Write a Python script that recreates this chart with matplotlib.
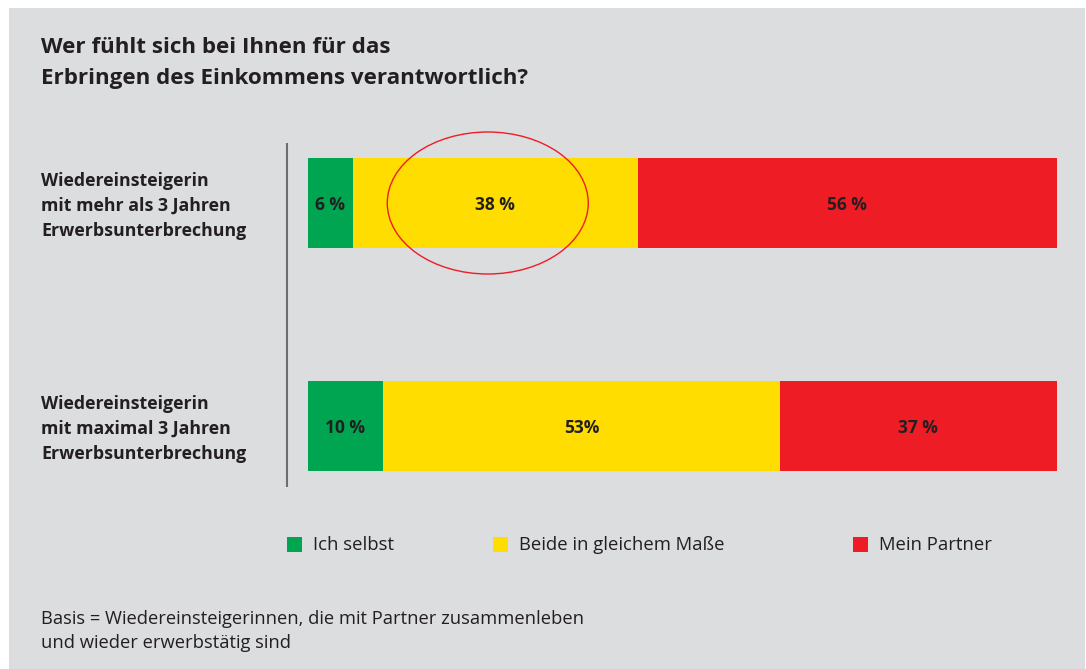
import matplotlib
matplotlib.use("Agg")
import matplotlib.pyplot as plt
from matplotlib.patches import Rectangle, Ellipse

# ---- data ----
categories = [
    "Wiedereinsteigerin\nmit mehr als 3 Jahren\nErwerbsunterbrechung",
    "Wiedereinsteigerin\nmit maximal 3 Jahren\nErwerbsunterbrechung",
]
series_names = ["Ich selbst", "Beide in gleichem Maße", "Mein Partner"]
ich_selbst = [6, 10]
beide = [38, 53]
partner = [56, 37]
value_labels = [["6 %", "38 %", "56 %"], ["10 %", "53%", "37 %"]]

colors = ["#00a551", "#ffdd00", "#ee1c25"]
bg = "#dcdddf"
txt = "#231f20"
FONT = "Open Sans"

W, H = 1086, 669
fig = plt.figure(figsize=(W / 100, H / 100), dpi=100)
fig.patch.set_facecolor("white")

def fx(px):
    return px / W

def fy(py):
    return 1 - py / H

# gray panel
fig.patches.append(Rectangle((fx(9), 0), fx(1085) - fx(9), fy(8), transform=fig.transFigure,
                             facecolor=bg, edgecolor="none", zorder=-5))

# title
fig.text(fx(41), fy(63), "Wer fühlt sich bei Ihnen für das\nErbringen des Einkommens verantwortlich?",
         family=FONT, fontweight="bold", fontsize=16.1, color=txt, va="center", ha="left",
         linespacing=1.64)

# bars axes
ax = fig.add_axes([fx(308), fy(487), fx(1057) - fx(308), fy(143) - fy(487)])
ax.set_facecolor("none")
ax.set_zorder(2)
px_per_unit = 426 - 203
ax.set_ylim(1 + (487 - 426) / px_per_unit, -(203 - 143) / px_per_unit)
ax.set_xlim(0, 100)
ax.axis("off")

ypos = [0, 1]
bh = 90 / px_per_unit
series = [ich_selbst, beide, partner]
lefts = [0, 0]
for si, vals in enumerate(series):
    ax.barh(ypos, vals, left=lefts, height=bh, color=colors[si], edgecolor="none")
    for i, v in enumerate(vals):
        ax.text(lefts[i] + v / 2, ypos[i], value_labels[i][si], ha="center", va="center_baseline",
                family=FONT, fontweight="bold", fontsize=12.5, color=txt)
    lefts = [l + v for l, v in zip(lefts, vals)]

# vertical axis line
xline = -(308 - 287) / 749 * 100
ax.plot([xline, xline], [ax.get_ylim()[0], ax.get_ylim()[1]], color="#6d6e70", lw=1.5,
        clip_on=False, solid_capstyle="butt")

# highlight ellipse around 38 %
ell = Ellipse((ich_selbst[0] + 18, ypos[0]), width=201 / 7.49, height=142 / px_per_unit,
              fill=False, edgecolor="#ee1c25", lw=1.0, clip_on=False)
ax.add_patch(ell)

# category labels
for i, c in enumerate(categories):
    fig.text(fx(41), fy([206, 429][i]), c, family=FONT, fontweight="bold", fontsize=12.8,
             color=txt, va="center", ha="left", linespacing=1.5)

# legend
leg_x = [287, 493, 853]
for name, col, x0 in zip(series_names, colors, leg_x):
    fig.patches.append(Rectangle((fx(x0), fy(552)), fx(15), 15 / H, transform=fig.transFigure,
                                 facecolor=col, edgecolor="none"))
    fig.text(fx(x0 + 26), fy(545), name, family=FONT, fontsize=13.3, color=txt,
             va="center", ha="left")

# footnote
fig.text(fx(41), fy(631), "Basis = Wiedereinsteigerinnen, die mit Partner zusammenleben\nund wieder erwerbstätig sind",
         family=FONT, fontsize=13.2, color=txt, va="center", ha="left", linespacing=1.5)

fig.savefig("out.png", dpi=100, facecolor=fig.get_facecolor())
